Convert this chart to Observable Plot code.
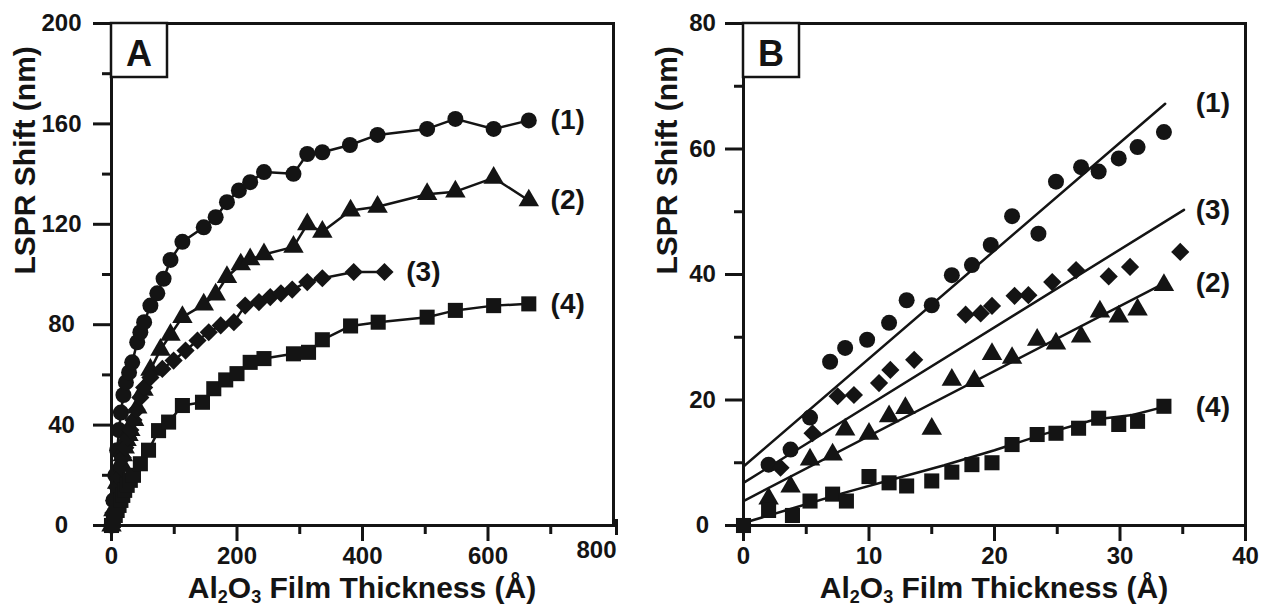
<!DOCTYPE html>
<html><head><meta charset="utf-8">
<script src="https://cdn.jsdelivr.net/npm/d3@7"></script>
<script src="https://cdn.jsdelivr.net/npm/@observablehq/plot@0.6"></script>
<style>
body{margin:0;background:#fff;}
#wrap{display:flex;width:1265px;height:609px;overflow:hidden;}
</style></head><body><div id="wrap"></div>
<script>
// ---------- Panel A data (thickness in Å, LSPR shift in nm) ----------
const a1X = [0, 3, 6, 9, 12, 15, 19, 23, 28, 33, 41, 46, 52, 62, 73, 83, 94, 113, 147, 166, 184, 203, 221, 243, 290, 312, 336, 380, 424, 503, 548, 609, 665];
const a1Y = [0, 10, 20, 30, 38, 45, 52, 57, 61, 65, 73, 77, 81, 87.6, 92.5, 98.3, 105.8, 113, 118.8, 122.8, 128.8, 133.5, 136.8, 140.8, 140.1, 148, 148.7, 151.6, 155.6, 158, 162, 158, 161.4];
const a2X = [0, 3, 6, 9, 12, 15, 18, 21, 24, 27, 30, 36, 41, 51, 62, 78, 94, 113, 147, 166, 184, 206, 221, 243, 290, 312, 336, 381, 424, 503, 548, 609, 665];
const a2Y = [0, 6, 12, 17, 21, 25, 28, 31, 34, 36, 38, 42, 47, 54, 62, 70, 76, 83, 88, 92, 99, 104, 106, 108, 111, 120, 117, 125.5, 127, 132, 133, 138.5, 129.5];
const a3X = [0, 3, 6, 9, 12, 15, 18, 22, 26, 30, 35, 40, 46, 52, 62, 81, 99, 118, 137, 155, 174, 195, 213, 235, 253, 270, 288, 312, 336, 386, 435];
const a3Y = [0, 5, 10, 15, 19, 23, 27, 31, 35, 38, 42, 46, 51, 55, 59, 62.4, 65.7, 69.7, 73.7, 77, 79.7, 81, 87.6, 89, 91, 92.5, 94, 97, 98.5, 101, 101];
const a4X = [0, 3, 6, 9, 12, 15, 18, 21, 25, 30, 35, 46, 59, 75, 91, 113, 145, 163, 182, 200, 221, 243, 290, 314, 336, 381, 425, 503, 548, 609, 665];
const a4Y = [0, 2, 4, 6, 8, 10, 12, 14, 16, 18, 20, 24.6, 30, 37.8, 41.2, 47.8, 49.1, 54.5, 58, 60.5, 65, 66.5, 68.4, 69, 74, 79.5, 81, 83, 85.7, 87.6, 88.3];

// ---------- Panel B data ----------
const b1X = [2.0, 3.75, 5.3, 6.9, 8.1, 9.85, 11.6, 13.0, 15.0, 16.6, 18.2, 19.7, 21.4, 23.5, 24.9, 26.9, 28.3, 29.9, 31.4, 33.5];
const b1Y = [9.7, 12.1, 17.2, 26.1, 28.3, 29.6, 32.3, 35.9, 35.1, 39.9, 41.5, 44.7, 49.3, 46.5, 54.8, 57.1, 56.4, 58.5, 60.3, 62.7];
const b2X = [2.0, 3.75, 5.3, 7.1, 8.1, 10, 11.6, 12.9, 15, 16.6, 18.4, 19.8, 21.4, 23.4, 24.9, 26.9, 28.4, 29.9, 31.4, 33.5];
const b2Y = [4.3, 6.2, 10.5, 11.3, 15.3, 14.6, 17.4, 18.7, 15.4, 23.2, 23.0, 27.3, 26.7, 29.6, 29.0, 30.1, 34.1, 33.3, 34.4, 38.3];
const b3X = [2.95, 5.5, 7.5, 8.8, 10.8, 11.7, 13.6, 17.7, 18.9, 19.8, 21.6, 22.7, 24.6, 26.5, 29.1, 30.8, 34.8];
const b3Y = [9.2, 14.7, 20.6, 20.8, 22.7, 24.8, 26.4, 33.6, 33.8, 35.0, 36.6, 36.7, 38.8, 40.7, 39.7, 41.2, 43.6];
const b4X = [0, 2.0, 3.9, 5.3, 7.1, 8.2, 10, 11.6, 13.0, 15.0, 16.6, 18.2, 19.8, 21.4, 23.4, 24.9, 26.7, 28.3, 29.9, 31.4, 33.5];
const b4Y = [0, 2.4, 1.6, 3.9, 5.0, 3.9, 7.8, 6.8, 6.3, 7.1, 8.5, 9.7, 10.0, 12.9, 14.5, 14.7, 15.5, 17.1, 16.1, 16.6, 19.0];
// fitted lines in panel B
const fit1X = [0, 33.6], fit1Y = [9.4, 67.2];
const fit2X = [0, 33.5], fit2Y = [3.9, 38.6];
const fit3X = [0, 35.1], fit3Y = [6.8, 50.3];
const fit4X = [0, 4, 8, 12, 16, 20, 24, 28, 31, 33.5];
const fit4Y = [0.4, 2.8, 5.2, 7.4, 9.6, 12.0, 14.6, 16.9, 17.6, 18.9];

// series labels
const seriesLabels = ["(1)", "(2)", "(3)", "(4)"];
const aLabelX = [727, 727, 497, 727], aLabelY = [161.4, 129.5, 101, 88.4];
const bLabelX = [37.4, 37.4, 37.4, 37.4], bLabelY = [67.3, 38.6, 50.3, 18.9];

// ticks
const aXTicks = [0, 200, 400, 600], aXLast = [800], aXMinor = [100, 300, 500, 700];
const aYTicks = [0, 40, 80, 120, 160, 200], aYMinor = [20, 60, 100, 140, 180];
const bXTicks = [0, 10, 20, 30, 40], bXMinor = [5, 15, 25, 35];
const bYTicks = [0, 20, 40, 60, 80], bYMinor = [10, 30, 50, 70];

const INK = "#141414";
const rows = (xs, ys) => xs.map((x, i) => ({x, y: ys[i]}));
const labRows = (xs, ys) => seriesLabels.map((t, i) => ({t, x: xs[i], y: ys[i]}));

function panel({xDomain, yDomain, width, marginRight, series, fits, connect, labels, xTicks, xLast, xMinor, yTicks, yMinor, yPad, letter}) {
  const symbols = ["circle", "triangle", "diamond2", "square"];
  const radii = [8, 7.6, 8.2, 8.5];
  const marks = [];
  fits.forEach(f => marks.push(Plot.line(f, {x: "x", y: "y", stroke: INK, strokeWidth: 2.5})));
  if (connect) series.forEach(s => marks.push(Plot.line(s, {x: "x", y: "y", stroke: INK, strokeWidth: 2.5})));
  series.forEach((s, i) => marks.push(Plot.dot(s, {x: "x", y: "y", symbol: () => symbols[i], r: radii[i], fill: INK})));
  marks.push(Plot.text(labels, {x: "x", y: "y", text: "t", fontSize: 28, fontWeight: "bold", fill: INK}));
  marks.push(Plot.frame({stroke: INK, strokeWidth: 3}));
  const tickOpts = {stroke: INK, strokeWidth: 3, fontSize: 24, fontWeight: "bold", fill: INK};
  marks.push(Plot.axisX(xTicks, {...tickOpts, tickSize: 16, tickPadding: 5}));
  if (xLast) marks.push(Plot.axisX(xLast, {...tickOpts, tickSize: 16, tickPadding: 5, textAnchor: "end", dx: 3, dy: -6}));
  marks.push(Plot.axisX(xMinor, {...tickOpts, tickSize: 9, tickFormat: () => ""}));
  marks.push(Plot.axisY(yTicks, {...tickOpts, tickSize: 18, tickPadding: yPad, textAnchor: "middle"}));
  marks.push(Plot.axisY(yMinor, {...tickOpts, tickSize: 9, tickFormat: () => ""}));
  marks.push(Plot.text(["LSPR Shift (nm)"], {frameAnchor: "left", rotate: -90, dx: yPad === 32 ? -86 : -76, fontSize: 30, fontWeight: "bold", fill: INK}));

  const svg = Plot.plot({
    width, height: 609,
    marginLeft: 111, marginRight, marginTop: 23, marginBottom: 84,
    x: {domain: xDomain, label: null},
    y: {domain: yDomain, label: null},
    style: {fontFamily: "'Liberation Sans', Arial, sans-serif", color: INK, background: "white", overflow: "visible"},
    marks
  });
  const sel = d3.select(svg);
  // panel letter box
  sel.append("rect").attr("x", 111).attr("y", 23).attr("width", 56).attr("height", 54)
    .attr("fill", "white").attr("stroke", INK).attr("stroke-width", 2.5);
  sel.append("text").attr("x", 139).attr("y", 66).attr("text-anchor", "middle")
    .attr("font-size", 36).attr("font-weight", "bold").attr("fill", INK)
    .attr("font-family", "'Liberation Sans', Arial, sans-serif").text(letter);
  // x-axis title with subscripts
  const cx = 111 + (width - 111 - marginRight) / 2;
  const t = sel.append("text").attr("x", cx).attr("y", 598).attr("text-anchor", "middle")
    .attr("font-size", 30).attr("font-weight", "bold").attr("fill", INK)
    .attr("font-family", "'Liberation Sans', Arial, sans-serif");
  t.append("tspan").text("Al");
  t.append("tspan").attr("font-size", 18).attr("dy", 5).text("2");
  t.append("tspan").attr("dy", -5).text("O");
  t.append("tspan").attr("font-size", 18).attr("dy", 5).text("3");
  t.append("tspan").attr("dy", -5).text(" Film Thickness (Å)");
  return svg;
}

const wrap = document.getElementById("wrap");
wrap.appendChild(panel({
  xDomain: [0, 800], yDomain: [0, 200], width: 632, marginRight: 19,
  series: [rows(a1X, a1Y), rows(a2X, a2Y), rows(a3X, a3Y), rows(a4X, a4Y)],
  fits: [], connect: true, labels: labRows(aLabelX, aLabelY),
  xTicks: aXTicks, xLast: aXLast, xMinor: aXMinor, yTicks: aYTicks, yMinor: aYMinor, yPad: 32, letter: "A"
}));
wrap.appendChild(panel({
  xDomain: [0, 40], yDomain: [0, 80], width: 633, marginRight: 20,
  series: [rows(b1X, b1Y), rows(b2X, b2Y), rows(b3X, b3Y), rows(b4X, b4Y)],
  fits: [rows(fit1X, fit1Y), rows(fit2X, fit2Y), rows(fit3X, fit3Y), rows(fit4X, fit4Y)], connect: false,
  labels: labRows(bLabelX, bLabelY),
  xTicks: bXTicks, xLast: null, xMinor: bXMinor, yTicks: bYTicks, yMinor: bYMinor, yPad: 23, letter: "B"
}));
</script></body></html>
